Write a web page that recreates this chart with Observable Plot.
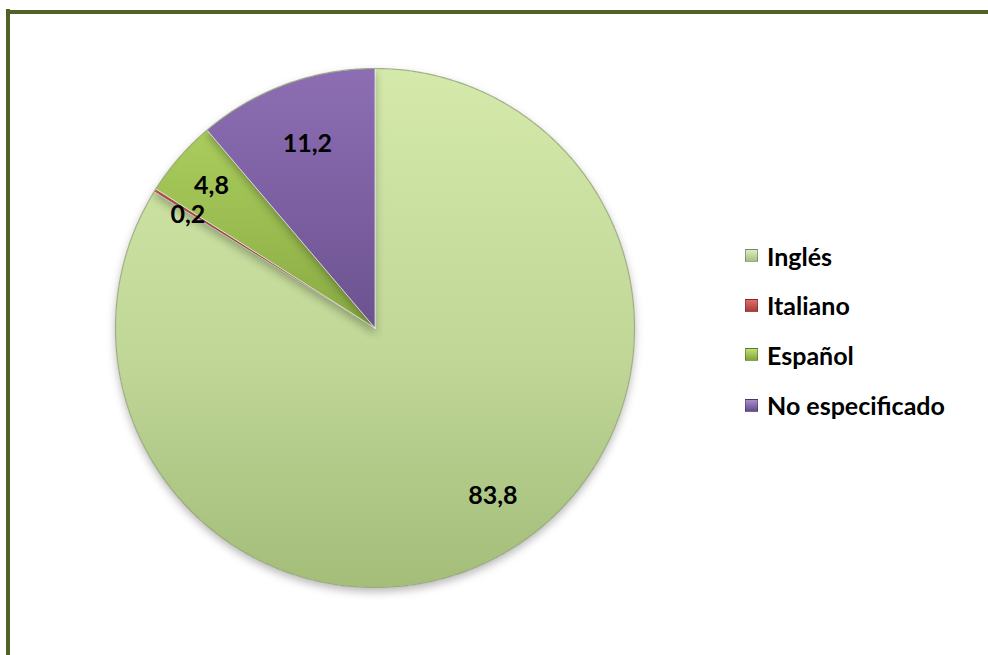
<!DOCTYPE html>
<html>
<head>
<meta charset="utf-8">
<script src="https://cdn.jsdelivr.net/npm/d3@7"></script>
<script src="https://cdn.jsdelivr.net/npm/@observablehq/plot@0.6"></script>
<style>
  html, body { margin: 0; padding: 0; background: #fff; }
  #wrap { position: relative; width: 988px; height: 655px; overflow: hidden; font-family: Lato, "Open Sans", sans-serif; }
  #chart { position: absolute; left: 0; top: 0; }
  .bline { position: absolute; background: #4f6228; }
  #legend { position: absolute; left: 745px; top: 0; }
  .lrow { position: absolute; left: 0; height: 30px; display: flex; align-items: center; white-space: nowrap; }
  .sw { width: 13px; height: 13px; margin-right: 9px; box-sizing: border-box; border: 1px solid rgba(0,0,0,0.28); }
  .lt { font-weight: 700; font-size: 25px; color: #000; }
</style>
</head>
<body>
<svg width="0" height="0" style="position:absolute">
  <defs>
    <linearGradient id="g0" x1="0" y1="0" x2="0" y2="1">
      <stop offset="0" stop-color="#d4e9aa"/>
      <stop offset="0.55" stop-color="#c0d798"/>
      <stop offset="1" stop-color="#a4bd79"/>
    </linearGradient>
    <linearGradient id="g1" x1="0" y1="0" x2="0" y2="1">
      <stop offset="0" stop-color="#d0605c"/>
      <stop offset="1" stop-color="#a84340"/>
    </linearGradient>
    <linearGradient id="g2" x1="0" y1="0" x2="0" y2="1">
      <stop offset="0" stop-color="#abcd5e"/>
      <stop offset="1" stop-color="#88aa42"/>
    </linearGradient>
    <linearGradient id="g3" x1="0" y1="0" x2="0" y2="1">
      <stop offset="0" stop-color="#8d6eb4"/>
      <stop offset="1" stop-color="#6c5290"/>
    </linearGradient>
  </defs>
</svg>
<div id="wrap">
  <div id="chart"></div>
  <div class="bline" style="left:6px; top:10px; width:982px; height:4px;"></div>
  <div class="bline" style="left:6px; top:9px; width:4px; height:646px;"></div>
  <div id="legend"></div>
</div>
<script>
// ---- data ----
const categories = ["Inglés", "Italiano", "Español", "No especificado"];
const values = [83.8, 0.2, 4.8, 11.2];
const valueLabels = ["83,8", "0,2", "4,8", "11,2"];

// ---- layout / style ----
const W = 988, H = 655;
const R = 259.5, CX = 374.5, CY = 327.5;
const fills = ["url(#g0)", "url(#g1)", "url(#g2)", "url(#g3)"];
const swatches = [
  "linear-gradient(180deg, #dcecc0, #a7bf82)",
  "linear-gradient(180deg, #e36b67, #a63e3b)",
  "linear-gradient(180deg, #c0e270, #82a33d)",
  "linear-gradient(180deg, #a88cce, #654c88)"
];
// label radius factor and pixel nudge per slice
const labelR = [0.79, 0.869, 0.866, 0.757];
const labelNudge = [[18, -11], [4, 7], [6, 6], [0, 0]];

const rows = categories.map((name, i) => ({name, value: values[i], label: valueLabels[i], i}));
const arcs = d3.pie().sort(null).value(d => d.value)(rows);

const sliceMarks = arcs.map((a, k) => {
  const pts = [{x: 0, y: 0}];
  const n = Math.max(2, Math.ceil((a.endAngle - a.startAngle) / 0.004));
  for (let j = 0; j <= n; ++j) {
    const t = a.startAngle + (a.endAngle - a.startAngle) * j / n;
    pts.push({x: Math.sin(t), y: Math.cos(t)});
  }
  pts.push({x: 0, y: 0});
  return Plot.line(pts, {x: "x", y: "y", fill: fills[k], stroke: "#ffffff", strokeOpacity: 0.6, strokeWidth: 1, curve: "linear"});
});

// outer rim
const rim = d3.range(0, 721).map(j => ({x: Math.sin(j / 720 * 2 * Math.PI), y: Math.cos(j / 720 * 2 * Math.PI)}));

const labelData = arcs.map((a, k) => {
  const m = (a.startAngle + a.endAngle) / 2;
  return {
    x: labelR[k] * Math.sin(m) + labelNudge[k][0] / R,
    y: labelR[k] * Math.cos(m) - labelNudge[k][1] / R,
    text: a.data.label
  };
});

const plot = Plot.plot({
  width: W,
  height: H,
  margin: 0,
  x: {domain: [-CX / R, (W - CX) / R], axis: null},
  y: {domain: [-(H - CY) / R, CY / R], axis: null},
  style: {background: "transparent", overflow: "visible"},
  marks: [
    ...sliceMarks,
    Plot.line(rim, {x: "x", y: "y", stroke: "#7f955a", strokeWidth: 1.2, strokeOpacity: 0.7, curve: "linear"}),
    Plot.text(labelData, {x: "x", y: "y", text: "text", fill: "#000", fontSize: 25, fontWeight: 700, fontFamily: "Lato, 'Open Sans', sans-serif"})
  ]
});
plot.querySelectorAll('g[aria-label="line"]').forEach((g, idx) => {
  if (idx < 4) g.style.filter = "drop-shadow(0px 4px 4px rgba(0,0,0,0.28))";
});
document.getElementById("chart").appendChild(plot);

// legend
const legendY = [255.5, 305, 354.5, 405];
const legend = document.getElementById("legend");
categories.forEach((c, i) => {
  const row = document.createElement("div");
  row.className = "lrow";
  row.style.top = (legendY[i] - 15) + "px";
  const sw = document.createElement("div");
  sw.className = "sw";
  sw.style.background = swatches[i];
  const t = document.createElement("span");
  t.className = "lt";
  t.textContent = c;
  row.appendChild(sw);
  row.appendChild(t);
  legend.appendChild(row);
});
</script>
</body>
</html>
